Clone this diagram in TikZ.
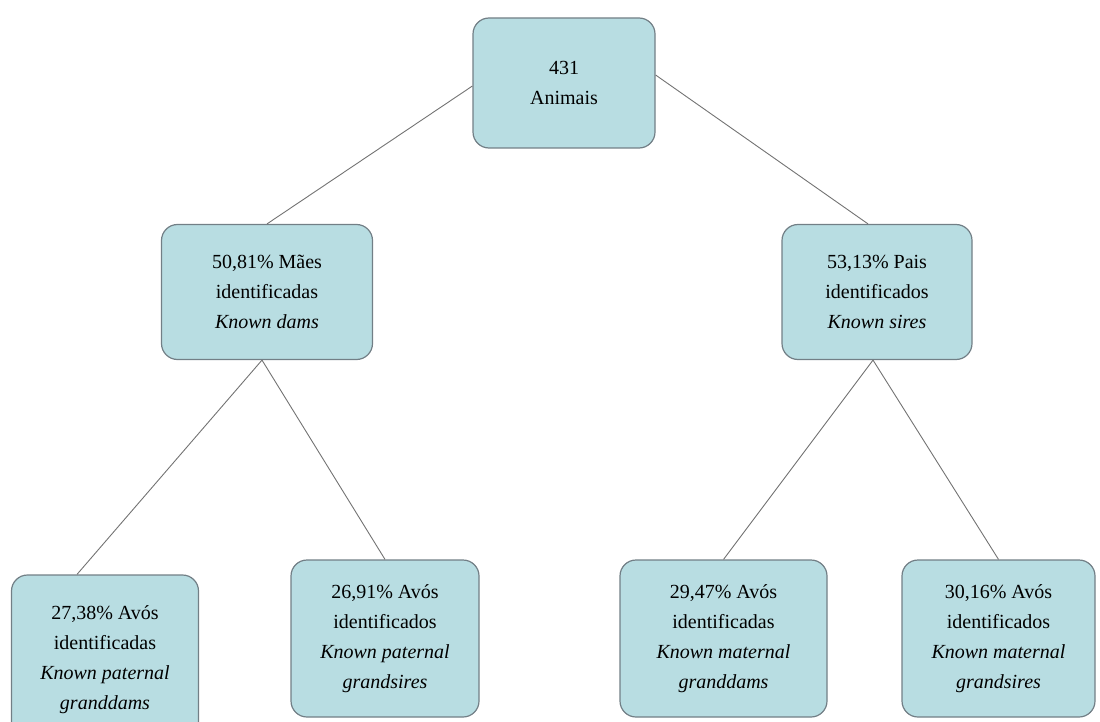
\documentclass[tikz,border=0pt]{standalone}
\usepackage{fontspec}
\setmainfont{Liberation Serif}
\begin{document}
\begin{tikzpicture}[x=1pt,y=-1pt,
  box/.style={draw=black!60!cyan!40!gray, line width=1.2pt, fill=boxfill, rounded corners=16pt,
    align=center, inner sep=0pt, font=\fontsize{20}{30}\selectfont},
  link/.style={draw=black!55, line width=0.9pt}]
\definecolor{boxfill}{HTML}{B8DDE2}
\useasboundingbox (0,0) rectangle (1100,722);
\node[box, minimum width=182pt, minimum height=130pt] (top) at (564,83) {431\\Animais};
\node[box, minimum width=211pt, minimum height=135pt] (mae) at (267,292) {50,81\% Mães\\identificadas\\\textit{Known dams}};
\node[box, minimum width=190pt, minimum height=135pt] (pai) at (877,292) {53,13\% Pais\\identificados\\\textit{Known sires}};
\node[box, minimum width=187pt, minimum height=170pt] (b1) at (105,660) {27,38\% Avós\\identificadas\\\textit{Known paternal}\\\textit{granddams}};
\node[box, minimum width=188pt, minimum height=157pt] (b2) at (385,638.5) {26,91\% Avós\\identificados\\\textit{Known paternal}\\\textit{grandsires}};
\node[box, minimum width=207pt, minimum height=157pt] (b3) at (723.5,638.5) {29,47\% Avós\\identificadas\\\textit{Known maternal}\\\textit{granddams}};
\node[box, minimum width=193pt, minimum height=157pt] (b4) at (998.5,638.5) {30,16\% Avós\\identificados\\\textit{Known maternal}\\\textit{grandsires}};
\coordinate (b1in) at ([xshift=-28pt]b1.north);
\draw[link] ([yshift=-3pt]top.west) -- (mae.north);
\draw[link] ([yshift=8pt]top.east) -- ([xshift=-9pt]pai.north);
\draw[link] ([xshift=-5pt]mae.south) -- (b1in);
\draw[link] ([xshift=-5pt]mae.south) -- (b2.north);
\draw[link] ([xshift=-4pt]pai.south) -- (b3.north);
\draw[link] ([xshift=-4pt]pai.south) -- (b4.north);
\end{tikzpicture}
\end{document}
